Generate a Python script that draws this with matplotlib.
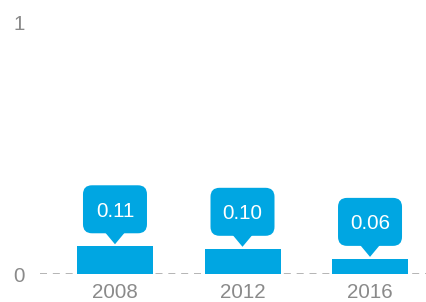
import matplotlib.pyplot as plt
from matplotlib.patches import FancyBboxPatch, Polygon

plt.rcParams['font.family'] = ['Liberation Sans', 'DejaVu Sans']

years = ['2008', '2012', '2016']
values = [0.11, 0.10, 0.06]
labels = ['0.11', '0.10', '0.06']

blue = '#00a6e2'
grey = '#8a8a8a'

W, H = 426, 302
fig = plt.figure(figsize=(W / 100, H / 100), dpi=100)
# axes placed in pixels: left 40, right 426, bottom at y=274, top at y=22
ax = fig.add_axes([40 / W, (H - 274) / H, (426 - 40) / W, (274 - 22) / H])

xlim = (-0.588, 2.439)
ylim = (0, 1)
ax.set_xlim(*xlim)
ax.set_ylim(*ylim)
px_x = (xlim[1] - xlim[0]) / (426 - 40)   # data units per pixel (x)
px_y = (ylim[1] - ylim[0]) / (274 - 22)    # data units per pixel (y)

xs = list(range(len(years)))
ax.bar(xs, values, width=76 * px_x, color=blue, zorder=3)

# speech bubble labels
bw, bh = 64 * px_x, 48 * px_y
for x, v, lab in zip(xs, values, labels):
    bottom = v + 13 * px_y
    box = FancyBboxPatch((x - bw / 2, bottom), bw, bh,
                         boxstyle='round,pad=0,rounding_size=%f' % (9 * px_x),
                         mutation_aspect=px_y / px_x,
                         fc=blue, ec='none', zorder=4)
    ax.add_patch(box)
    tri = Polygon([(x - 10 * px_x, bottom + 1 * px_y),
                   (x + 10 * px_x, bottom + 1 * px_y),
                   (x, v + 2 * px_y)], closed=True, fc=blue, ec='none', zorder=4)
    ax.add_patch(tri)
    ax.text(x, bottom + bh / 2 - 2 * px_y, lab, ha='center', va='center',
            color='white', fontsize=14.8, zorder=5)

ax.axhline(0, color='#b4b4b4', lw=1.4, ls=(0, (3.6, 3)), zorder=2)

for s in ax.spines.values():
    s.set_visible(False)
ax.set_xticks(xs)
ax.set_xticklabels(years)
ax.set_yticks([0, 1])
ax.set_yticklabels(['0', '1'])
ax.tick_params(axis='both', length=0, labelsize=14.8, labelcolor=grey)
ax.tick_params(axis='x', pad=6.5)
ax.tick_params(axis='y', pad=11)

fig.savefig('out.png', dpi=100)
